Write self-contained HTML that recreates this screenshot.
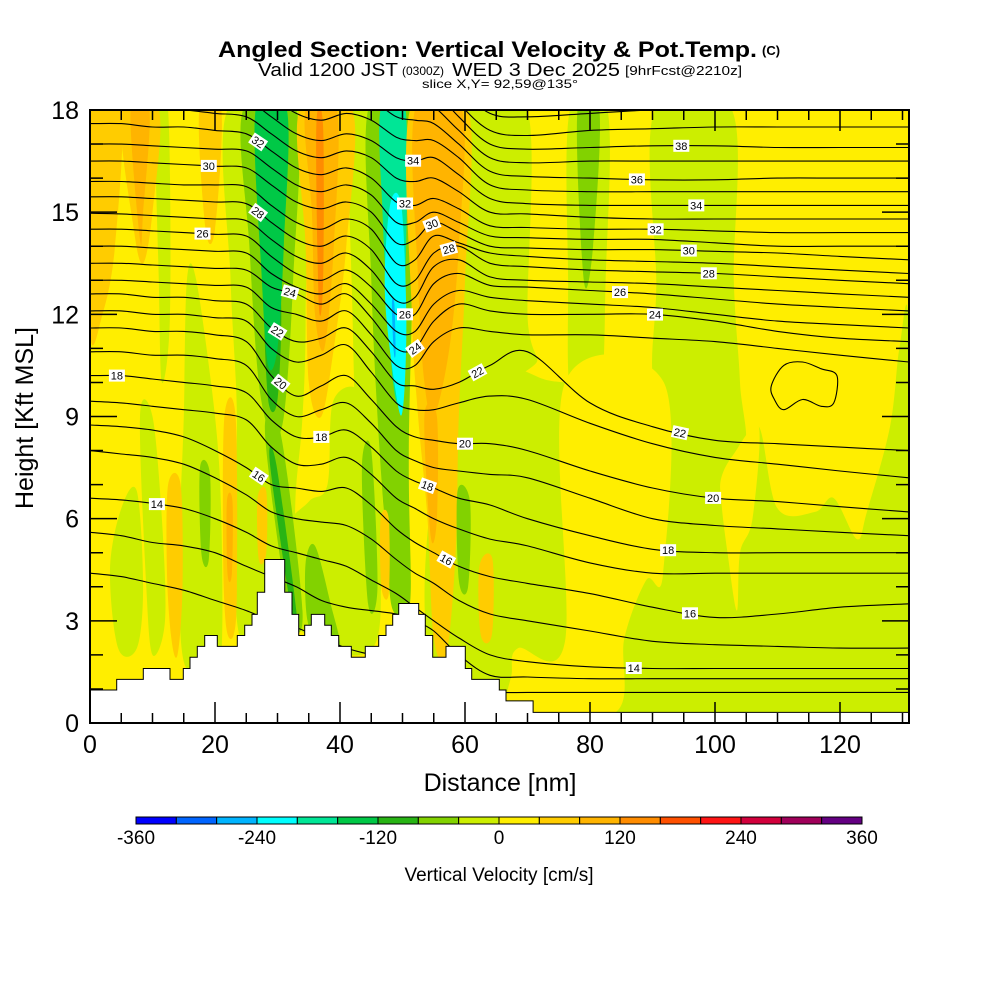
<!DOCTYPE html>
<html><head><meta charset="utf-8"><style>
html,body{margin:0;padding:0;background:#fff;}
svg{display:block;font-family:"Liberation Sans",Arial,sans-serif;}
</style></head><body>
<svg id="chart" width="1000" height="1000" viewBox="0 0 1000 1000" xmlns="http://www.w3.org/2000/svg">
<rect width="1000" height="1000" fill="#fff"/>
<g>
<text x="218" y="57" font-size="22" font-weight="bold" textLength="539" lengthAdjust="spacingAndGlyphs">Angled Section: Vertical Velocity &amp; Pot.Temp.</text>
<text x="762" y="55" font-size="13" font-weight="bold">(C)</text>
</g>
<g>
<text x="258" y="76" font-size="18" textLength="140" lengthAdjust="spacingAndGlyphs">Valid 1200 JST</text>
<text x="402" y="75" font-size="12">(0300Z)</text>
<text x="452" y="76" font-size="18" textLength="168" lengthAdjust="spacingAndGlyphs">WED 3 Dec 2025</text>
<text x="625" y="75" font-size="13" textLength="117" lengthAdjust="spacingAndGlyphs">[9hrFcst@2210z]</text>
<text x="422" y="88" font-size="12" textLength="156" lengthAdjust="spacingAndGlyphs">slice X,Y= 92,59@135°</text>
</g>
<defs><clipPath id="pc"><rect x="90" y="110" width="819" height="613"/></clipPath></defs>
<g id="field" clip-path="url(#pc)"></g>
<g id="contours" clip-path="url(#pc)"></g>
<g id="terrain" clip-path="url(#pc)"></g>
<g id="clabels"></g>
<g id="axes"></g>
<g id="cbar"></g>
</svg>
<script>
// ---- data ----
const binColors=['#0000ff','#0064ff','#00b4ff','#00ffff','#00e696','#00c846','#28b414','#82d200','#ccee00','#ffee00','#ffcc00','#ffb400','#ff8c00','#ff5000','#ff1414','#d2003c','#a0005a','#640082'];
const cbarTicks=[-360,-240,-120,0,120,240,360];
const xTicks=[0,20,40,60,80,100,120];
const yTicks=[0,3,6,9,12,15,18];
const D=[0,5,10,15,20,25,29,33,37,41,45,49,52,55,59,64,70,80,90,100,110,120,131];
const thetas=[12,13,14,15,16,17,18,19,20,21,22,23,24,25,26,27,28,29,30,31,32,33,34,35,36,37,38,39,40];
const th12=[4.4,4.3,4.1,3.9,3.6,3.3,3.0,2.8,2.5,2.2,2.0,1.8,1.6,1.3,1.0,0.9,0.9,0.9,0.9,0.9,0.9,0.9,0.9];
const th13=[5.6,5.5,5.3,5.2,5.0,4.6,4.3,4.0,3.6,3.4,3.3,3.2,3.0,2.7,2.0,1.4,1.35,1.3,1.3,1.3,1.3,1.3,1.3];
const th14=[6.6,6.55,6.45,6.3,6.0,5.6,5.2,5.0,4.8,4.6,4.2,3.8,3.4,3.0,2.5,2.0,1.8,1.65,1.6,1.6,1.6,1.6,1.6];
const th15=[8.0,7.9,7.8,7.6,7.2,6.7,6.2,6.0,5.9,5.8,5.4,4.8,4.4,4.1,3.6,3.2,3.0,2.7,2.4,2.3,2.25,2.2,2.2];
const th16=[8.75,8.7,8.6,8.4,8.0,7.5,7.0,6.9,6.8,6.9,6.4,5.7,5.3,5.0,4.6,4.3,4.1,3.8,3.4,3.1,3.2,3.4,3.5];
const th17=[9.45,9.4,9.3,9.2,9.1,8.9,8.1,7.6,7.6,7.8,7.3,6.6,6.3,6.0,5.7,5.4,5.2,4.7,4.4,4.4,4.4,4.4,4.4];
const th18=[10.2,10.2,10.1,10.0,9.9,9.7,8.9,8.4,8.4,8.6,8.1,7.4,7.1,6.9,6.6,6.4,6.0,5.5,5.1,5.0,5.0,5.0,5.0];
const th19=[10.9,10.9,10.8,10.8,10.7,10.5,9.5,9.0,9.2,9.4,8.8,8.0,7.7,7.5,7.4,7.3,7.2,6.6,6.0,5.8,5.7,5.6,5.5];
const th20=[11.6,11.6,11.5,11.5,11.4,11.2,10.2,9.6,9.9,10.2,9.5,8.7,8.4,8.3,8.2,8.2,8.0,7.4,6.9,6.6,6.5,6.35,6.2];
const th21=[12.1,12.1,12.0,12.0,11.9,11.8,11.0,10.6,10.8,11.1,10.3,9.4,9.2,9.2,9.4,9.6,9.5,8.8,8.2,7.8,7.6,7.4,7.2];
const th22=[12.6,12.6,12.5,12.5,12.4,12.3,11.6,11.2,11.3,11.6,10.9,10.0,9.9,9.8,10.0,10.5,10.9,9.4,8.7,8.3,8.2,8.1,8.0];
const th23=[13.0,13.0,12.95,12.9,12.85,12.8,12.2,12.0,11.8,12.1,11.4,10.5,10.5,11.2,11.6,11.5,11.4,11.4,11.3,11.2,11.0,10.8,10.6];
const th24=[13.5,13.5,13.45,13.4,13.35,13.3,12.8,12.6,12.3,12.6,11.9,11.0,11.0,11.8,12.3,12.1,12.0,12.0,12.0,11.8,11.5,11.3,11.2];
const th25=[14.0,14.0,13.95,13.9,13.85,13.8,13.2,12.8,12.6,12.9,12.3,11.5,11.5,12.3,12.7,12.5,12.4,12.3,12.2,12.0,11.8,11.7,11.6];
const th26=[14.5,14.5,14.45,14.4,14.35,14.3,13.7,13.2,13.0,13.3,12.8,12.0,12.0,12.9,13.2,12.85,12.8,12.7,12.6,12.45,12.3,12.2,12.1];
const th27=[14.97,14.95,14.9,14.85,14.8,14.75,14.2,13.7,13.5,13.8,13.3,12.4,12.5,13.4,13.6,13.1,13.0,12.95,12.9,12.8,12.7,12.6,12.5];
const th28=[15.45,15.45,15.4,15.35,15.3,15.25,14.7,14.2,14.0,14.3,13.9,12.9,13.0,13.8,14.0,13.5,13.4,13.3,13.25,13.2,13.1,13.0,12.9];
const th29=[15.9,15.9,15.85,15.8,15.8,15.75,15.2,14.7,14.5,14.8,14.5,13.5,13.6,14.3,14.1,13.8,13.7,13.6,13.55,13.5,13.4,13.3,13.2];
const th30=[16.5,16.5,16.45,16.4,16.35,16.3,15.8,15.3,15.1,15.3,15.0,14.1,14.2,14.7,14.4,14.0,13.95,13.9,13.9,13.85,13.8,13.7,13.6];
const th31=[17.0,17.0,16.95,16.9,16.85,16.8,16.3,15.8,15.6,15.8,15.5,14.7,14.7,15.0,14.7,14.3,14.25,14.2,14.2,14.1,14.0,14.0,14.0];
const th32=[17.6,17.6,17.5,17.5,17.4,17.3,16.8,16.3,16.1,16.3,16.0,15.3,15.2,15.4,15.1,14.6,14.55,14.5,14.5,14.45,14.4,14.4,14.4];
const th33=[18.1,18.1,18.0,18.0,17.9,17.8,17.3,16.8,16.6,16.8,16.6,16.0,15.9,16.0,15.6,15.0,14.95,14.85,14.8,14.8,14.8,14.8,14.8];
const th34=[18.6,18.6,18.5,18.5,18.4,18.3,17.8,17.3,17.1,17.3,17.1,16.6,16.5,16.6,16.1,15.4,15.25,15.2,15.2,15.2,15.2,15.2,15.2];
const th35=[19.2,19.2,19.1,19.1,19.0,18.9,18.4,17.9,17.7,17.9,17.7,17.2,17.1,17.1,16.6,15.8,15.65,15.6,15.6,15.6,15.6,15.6,15.6];
const th36=[19.8,19.8,19.7,19.7,19.6,19.5,19.0,18.5,18.3,18.5,18.3,17.8,17.7,17.6,17.0,16.2,16.05,16.0,15.95,15.95,16.0,16.0,16.0];
const th37=[20.4,20.4,20.3,20.3,20.2,20.1,19.6,19.1,18.9,19.1,18.9,18.4,18.3,18.1,17.4,16.6,16.45,16.5,16.5,16.5,16.5,16.5,16.5];
const th38=[21,21,21,21,21,21,20.2,19.7,19.5,19.7,19.5,19,18.9,18.6,17.8,17.0,16.85,16.9,16.95,16.95,16.9,16.9,16.9];
const th39=[21.6,21.6,21.6,21.6,21.6,21.6,20.8,20.3,20.1,20.3,20.1,19.6,19.5,19.1,18.2,17.4,17.25,17.4,17.45,17.5,17.5,17.5,17.5];
const th40=[22,22,22,22,22,22,21.4,20.9,20.7,20.9,20.7,20.2,20.1,19.6,18.7,17.9,17.8,17.9,18,18,18.1,18.1,18.1];
const thetaHeights=[th12,th13,th14,th15,th16,th17,th18,th19,th20,th21,th22,th23,th24,th25,th26,th27,th28,th29,th30,th31,th32,th33,th34,th35,th36,th37,th38,th39,th40];
const loopD=[109,111,114,117,119.5,119,117,114,111,109.5];
const loopH=[9.9,10.5,10.6,10.4,10.2,9.4,9.3,9.5,9.2,9.5];
const labelTheta=[32,30,28,26,24,22,20,18,34,32,30,28,26,24,22,18,16,14,20,18,16,38,36,34,32,30,28,26,24,22,20,18,16,14];
const labelD=[26.9,19,26.9,18,32,30,30.5,4.3,51.7,50.4,54.7,57.4,50.4,52,62,37,27,10.7,60,54,57,94.6,87.5,97,90.5,95.8,99,84.8,90.4,94.4,99.7,92.5,96,87];
const terrD=[0,4.27,8.53,12.8,14.93,16,17.17,18.35,20.37,23.57,24.75,25.92,26.77,27.95,31.15,32.32,33.39,34.35,35.41,37.55,38.61,39.79,41.81,44.05,46.19,47.36,48.43,49.39,52.59,53.65,54.83,56.96,60.05,61.07,65.49,66.56,70.9];
const terrH=[0.97,1.28,1.6,1.28,1.6,1.93,2.25,2.57,2.25,2.57,2.87,3.19,3.84,4.8,3.84,3.19,2.57,2.87,3.19,2.87,2.57,2.25,1.93,2.25,2.57,2.87,3.19,3.51,3.19,2.57,1.93,2.25,1.6,1.28,0.97,0.65,0.31];
// velocity regions: value (cm/s) + polygon in (distance nm, height kft)
const regionVals=[-20,-20,-20,-20,-60,-20,20,20,-20,-20,-20,-20,-20,-60,60,60,100,60,60,60,100,140,-20,-60,-100,-140,-180,-220,-260,60,100,100,-20,-60,-60,-100,-60,-100,60,60,100,60,60,-60,-60];
const regionPts=[
 [[59,12],[63,11],[70,10.3],[76,10],[92,10],[97,9.5],[103,9],[104,7.5],[107,8.7],[110,6.3],[116,6.2],[119,6.6],[122.7,5.4],[124.3,6.2],[128,8.7],[129.5,11],[131,11.5],[131,0],[59,0]],
 [[60.5,18],[70,18],[70,12],[71,10.5],[60,10.5]],
 [[76.8,18],[82.8,18],[82.5,13],[81.5,9.5],[77,9.5],[76.5,13]],
 [[90.4,18],[102.7,18],[103,13],[104,10],[104,8],[91,9.5],[90.6,13]],
 [[78,18],[81.5,18],[80.5,14],[79,13]],
 [[92,9.6],[97,9.4],[103,9],[104,7.5],[101,8]],
 [[76,10],[91.8,10],[91.7,4.4],[89,4.2],[85.5,2.5],[84,0.3],[68,0.3],[67.5,1.5],[68.5,2.2],[76,2.4]],
 [[101,7.2],[103,7.9],[107,8.7],[106,6],[104,5],[103.5,3.3],[102,5],[101,6.5]],
 [[3.2,4.5],[5,6.3],[7.5,6.8],[8.5,4],[7.5,2.2],[4.5,2.2]],
 [[8,9],[10,9],[11.5,6],[12,3],[10,2],[9,4]],
 [[10.5,18],[12.5,18],[12.8,12],[11.5,10],[11,13]],
 [[15.5,13],[17,13],[20,9],[21,6],[21,2],[19,1.6],[15,1.8],[14.3,5],[15,9]],
 [[22,18],[34,18],[34.5,12],[34,9],[33,7],[32,4.8],[27,2.5],[24,2.5],[23,5],[23.5,9],[22.5,13]],
 [[17.6,7.5],[19.2,7.3],[19,4.8],[17.8,5]],
 [[0,18],[5,18],[4,14],[2,12],[0,11.5]],
 [[5,18],[11,18],[10,15],[8.5,13.5],[7,14.5]],
 [[6.5,18],[9.5,18],[8.5,15],[8,14.2]],
 [[17.5,18],[21,18],[20,14.5],[18.5,14.5]],
 [[12.5,7],[14.5,7],[14.8,4],[14,2],[13,2.5],[12.3,4.5]],
 [[21.5,9],[23.3,9],[23.5,4],[23,2.6],[21.8,2.8],[21.3,5]],
 [[21.9,6.5],[22.8,6.5],[22.7,4.4],[22,4.4]],
 [[36.2,17.5],[37.3,17.5],[37.3,13],[36.6,12.3]],
 [[39,9.5],[44,9.5],[46,6],[46,2.5],[40,2],[36,2.5],[33,3],[31,5.5],[35,6.5],[38,7]],
 [[24.5,18],[33,18],[32.5,13],[31,9],[29,8.5],[27,10],[25.5,14]],
 [[28,12.5],[30.5,12.5],[30,9.5],[28.5,9.5]],
 [[26.5,18],[31.5,18],[31,14],[30,11],[28.5,10.5],[27.5,13]],
 [[46.5,18],[50.5,18],[50.3,12],[49.5,9.5],[48.5,10],[47.5,12.5],[46.8,15]],
 [[48,15.2],[49.8,15.2],[50.6,12],[50.2,9.5],[49.3,9.3],[47.2,12.5]],
 [[48.3,12.3],[48.7,12.3],[48.9,10.9],[48.6,10.9]],
 [[51.2,18],[60.5,18],[60,13],[59,9],[58.5,5],[57,2],[55,2.5],[54,6],[52.5,9],[51.5,12]],
 [[52,18],[59.5,18],[59,14],[57.5,11],[55,9],[53.5,10],[52.5,13]],
 [[53.5,9],[55.5,9],[55.5,6],[54.5,5.5]],
 [[41.5,18],[45,18],[46,10],[47,5],[45,3],[43,6],[42,12]],
 [[44.5,18],[51.5,18],[51,8],[51.2,3.5],[48.5,3.3],[47.5,5],[46,9],[45,13]],
 [[28,8.5],[30.5,8.5],[34,3.3],[31.8,3.3]],
 [[28.8,7.6],[29.8,7.6],[33,3.3],[32.2,3.3]],
 [[34.5,4.7],[36,5.2],[38.5,3.5],[40,2.2],[37,2.3],[34.8,3]],
 [[45.5,18],[51,18],[50.8,10],[50,7],[49,6],[46.5,10],[45.8,14]],
 [[33.5,18],[42,18],[41,14],[39,11],[37,9],[35,10],[34.5,14]],
 [[26.8,6.6],[28.2,6.8],[28.2,5],[27,4.8]],
 [[34.5,18],[39.5,18],[39,14],[37.5,11],[36,12],[35.5,15]],
 [[46.5,6],[47.8,6],[47.8,3.8],[46.6,4]],
 [[62.3,4.6],[64.4,4.8],[64.3,2.6],[62.5,2.6]],
 [[58.8,6.8],[60.8,6.5],[60.5,4],[59,4.2]],
 [[43.5,7.5],[45,8],[46,4],[44.5,3.5]]
];
// draw order (index into regions) so overlapping layers stack correctly
const regionOrder=[0,1,2,3,4,5,6,7,8,9,10,11,12,13,14,15,16,17,18,19,20,22,23,24,25,37,32,33,26,27,28,38,40,21,29,30,31,34,35,36,39,41,42,43,44];

// ---- helpers ----
const NS='http://www.w3.org/2000/svg';
const X0=90,X1=909,Y0=723,Y1=110;
function xs(d){return X0+d*(X1-X0)/131.04;}
function ys(h){return Y0-h*(Y0-Y1)/18;}
function colorFor(v){let i=Math.floor((v+360)/40);i=Math.max(0,Math.min(17,i));return binColors[i];}
function mk(tag,attrs,parent){const e=document.createElementNS(NS,tag);for(const k in attrs)e.setAttribute(k,attrs[k]);parent.appendChild(e);return e;}
function smoothPath(pts,closed){
  const n=pts.length;let s='M'+pts[0][0].toFixed(1)+','+pts[0][1].toFixed(1);
  const g=i=>closed?pts[(i+n)%n]:pts[Math.max(0,Math.min(n-1,i))];
  const segs=closed?n:n-1;
  for(let i=0;i<segs;i++){const p0=g(i-1),p1=g(i),p2=g(i+1),p3=g(i+2);
    const c1=[p1[0]+(p2[0]-p0[0])/6,p1[1]+(p2[1]-p0[1])/6],c2=[p2[0]-(p3[0]-p1[0])/6,p2[1]-(p3[1]-p1[1])/6];
    s+=' C'+c1[0].toFixed(1)+','+c1[1].toFixed(1)+' '+c2[0].toFixed(1)+','+c2[1].toFixed(1)+' '+p2[0].toFixed(1)+','+p2[1].toFixed(1);}
  return s+(closed?' Z':'');
}
function interp(arr,d){for(let i=0;i<D.length-1;i++){if(d<=D[i+1]){const t=(d-D[i])/(D[i+1]-D[i]);return arr[i]+t*(arr[i+1]-arr[i]);}}return arr[arr.length-1];}

// ---- field ----
const field=document.getElementById('field');
const bg=mk('rect',{x:X0,y:Y1,width:X1-X0,height:Y0-Y1,fill:colorFor(20)},field);


regionOrder.forEach(ri=>{
  const pts=regionPts[ri].map(p=>[xs(p[0]),ys(p[1])]);
  const p=mk('path',{d:smoothPath(pts,true),fill:colorFor(regionVals[ri]),stroke:'none'},field);
  
  
});

// ---- contours ----
const cg=document.getElementById('contours');
thetaHeights.forEach((arr,i)=>{
  const pts=D.map((d,j)=>[xs(d),ys(arr[j])]);
  const p=mk('path',{d:smoothPath(pts,false),fill:'none',stroke:'#000','stroke-width':1.1},cg);
  
  
});
{const pts=loopD.map((d,j)=>[xs(d),ys(loopH[j])]);
 const p=mk('path',{d:smoothPath(pts,true),fill:'none',stroke:'#000','stroke-width':1.1},cg);
 
 }

// ---- terrain ----
const tg=document.getElementById('terrain');
let td='M'+xs(0)+','+Y0;
terrD.forEach((d,i)=>{const x=xs(d);const y=ys(terrH[i]);td+=' L'+x.toFixed(1)+','+(i===0?y:ys(terrH[i-1])).toFixed(1)+' L'+x.toFixed(1)+','+y.toFixed(1);});
td+=' L'+X1+','+ys(terrH[terrH.length-1]).toFixed(1)+' L'+X1+','+Y0+' Z';
const tp=mk('path',{d:td,fill:'#fff',stroke:'#000','stroke-width':1},tg);



// ---- contour labels ----
const lg=document.getElementById('clabels');
labelTheta.forEach((t,i)=>{
  const arr=thetaHeights[thetas.indexOf(t)];const d=labelD[i];
  const x=xs(d),y=ys(interp(arr,d));
  const dy=ys(interp(arr,d+1.5))-ys(interp(arr,d-1.5)),dx=xs(d+1.5)-xs(d-1.5);
  let ang=Math.atan2(dy,dx)*180/Math.PI;if(Math.abs(ang)<12)ang=0;
  const g=mk('g',{transform:'translate('+x.toFixed(1)+','+y.toFixed(1)+') rotate('+ang.toFixed(0)+')'},lg);
  
  
  mk('rect',{x:-8,y:-6,width:16,height:12,fill:'#fff'},g);
  const tx=mk('text',{x:0,y:4,'font-size':11,'text-anchor':'middle'},g);tx.textContent=String(t);
});

// ---- axes ----
const ax=document.getElementById('axes');
const fr=mk('rect',{x:X0,y:Y1,width:X1-X0,height:Y0-Y1,fill:'none',stroke:'#000','stroke-width':2},ax);


let tk='';
for(let h=1;h<18;h++){const L=(h%3===0)?27:13;const y=ys(h);tk+='M'+X0+','+y+' h'+L+' M'+X1+','+y+' h'+(-L)+' ';}
for(let d=5;d<=130;d+=5){const L=(d%20===0)?21:10;const x=xs(d);tk+='M'+x+','+Y0+' v'+(-L)+' M'+x+','+Y1+' v'+L+' ';}
const tkp=mk('path',{d:tk,stroke:'#000','stroke-width':1.5,fill:'none'},ax);


yTicks.forEach(v=>{const t=mk('text',{x:79,y:ys(v)+9,'font-size':25,'text-anchor':'end'},ax);t.textContent=v;
 
 });
xTicks.forEach(v=>{const t=mk('text',{x:xs(v),y:753,'font-size':25,'text-anchor':'middle'},ax);t.textContent=v;
 
 });
const xt=mk('text',{x:500,y:791,'font-size':25,'text-anchor':'middle'},ax);xt.textContent='Distance [nm]';


const yt=mk('text',{x:0,y:0,'font-size':25,'text-anchor':'middle',transform:'translate(33,418) rotate(-90)'},ax);yt.textContent='Height [Kft MSL]';



// ---- colorbar ----
const cb=document.getElementById('cbar');
const cbx0=136,cbx1=862,cbw=(cbx1-cbx0)/18;
binColors.forEach((c,i)=>{const r=mk('rect',{x:cbx0+i*cbw,y:817,width:cbw,height:7,fill:c,stroke:'#000','stroke-width':1},cb);
 
 });
cbarTicks.forEach(v=>{const t=mk('text',{x:cbx0+(v+360)/720*(cbx1-cbx0),y:844,'font-size':19,'text-anchor':'middle'},cb);t.textContent=v;
 
 });
const cbt=mk('text',{x:499,y:881,'font-size':19,'text-anchor':'middle'},cb);cbt.textContent='Vertical Velocity [cm/s]';


</script>
</body></html>
